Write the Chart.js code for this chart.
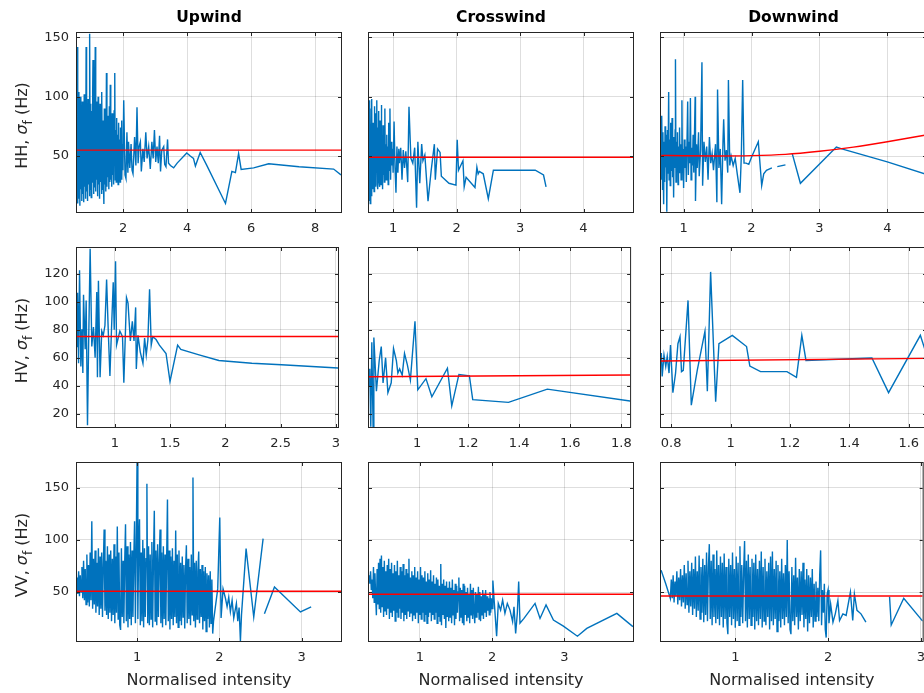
<!DOCTYPE html>
<html>
<head>
<meta charset="utf-8">
<title>Sigma f vs normalised intensity</title>
<script src="https://cdn.jsdelivr.net/npm/chart.js@4.4.1/dist/chart.umd.min.js"></script>
<style>
    html, body { margin: 0; padding: 0; background: #fff; overflow: hidden; }
    #fig { position: relative; width: 924px; height: 693px; overflow: hidden; background: #fff; }
    #fig canvas { position: absolute; }
</style>
</head>
<body>
<div id="fig"></div>
<script>
// Column titles and row (polarisation) labels
const columnTitles = ['Upwind', 'Crosswind', 'Downwind'];
const rowLabels = ['HH', 'HV', 'VV'];
const xLabel = 'Normalised intensity';

// Measured sigma_f (Hz) against normalised intensity, as [intensity, sigma]
const upwindHH = [
    [0.56,62],[0.575,142],[0.59,10],[0.605,104],[0.62,14],[0.635,92],[0.65,8],[0.665,100],[0.68,22],[0.695,88],
    [0.71,12],[0.725,96],[0.74,18],[0.755,84],[0.77,11],[0.785,102],[0.8,24],[0.815,90],[0.83,14],[0.845,142],
    [0.86,20],[0.875,86],[0.89,12],[0.905,98],[0.92,26],[0.935,80],[0.95,16],[0.96,153],[0.975,22],[0.99,94],
    [1.005,15],[1.02,88],[1.035,28],[1.05,104],[1.06,131],[1.075,18],[1.09,92],[1.105,24],[1.12,86],[1.13,142],
    [1.145,20],[1.16,96],[1.175,30],[1.19,82],[1.205,16],[1.22,100],[1.235,26],[1.25,78],[1.265,14],[1.28,94],
    [1.295,28],[1.31,86],[1.325,18],[1.34,104],[1.355,22],[1.37,80],[1.385,30],[1.4,9.5],[1.415,90],[1.43,26],
    [1.445,74],[1.46,20],[1.48,120],[1.495,24],[1.51,84],[1.525,32],[1.54,76],[1.555,22],[1.57,92],[1.585,28],
    [1.6,110],[1.615,30],[1.63,70],[1.645,24],[1.66,86],[1.675,34],[1.69,78],[1.705,26],[1.72,88],[1.74,120],
    [1.755,30],[1.77,72],[1.785,28],[1.8,82],[1.815,36],[1.83,68],[1.845,26],[1.86,78],[1.875,32],[1.89,64],
    [1.905,28],[1.92,74],[1.935,34],[1.95,80],[1.965,30],[1.98,60],[1.995,38],[2.02,97],[2.06,34],[2.09,31],
    [2.12,70],[2.15,36],[2.17,62],[2.21,40],[2.25,60],[2.28,38],[2.31,35],[2.36,66],[2.4,42],[2.435,91],
    [2.47,44],[2.5,58],[2.54,62],[2.57,37],[2.62,56],[2.66,45],[2.71,70],[2.75,48],[2.8,58],[2.85,39],
    [2.9,62],[2.94,48],[2.98,72],[3.02,45],[3.06,58],[3.1,44],[3.14,67],[3.17,37],[3.21,55],[3.27,58],
    [3.3,43],[3.34,41],[3.39,64],[3.42,44],[3.48,42],[3.58,40],[3.69,44],[3.99,52.5],[4.1,50],[4.2,48],
    [4.26,41.5],[4.41,53],[4.6,43],[5.2,10],[5.4,37],[5.51,36],[5.61,52],[5.69,38.7],[6.08,40],[6.55,43.5],
    [7.5,41],[8.58,39],[8.81,34]
];
const crosswindHH = [
    [0.62,60],[0.625,97],[0.63,12],[0.635,84],[0.64,10],[0.645,72],[0.65,26],[0.655,90],[0.66,16],[0.665,98],
    [0.67,30],[0.675,66],[0.68,22],[0.685,78],[0.69,28],[0.695,70],[0.7,20],[0.705,92],[0.71,34],[0.715,64],
    [0.72,24],[0.725,86],[0.73,30],[0.735,72],[0.74,36],[0.745,97],[0.75,26],[0.755,68],[0.76,22],[0.765,74],
    [0.77,32],[0.775,88],[0.78,28],[0.785,66],[0.79,24],[0.795,80],[0.8,34],[0.805,70],[0.81,26],[0.815,93],
    [0.82,38],[0.827,64],[0.834,22],[0.841,76],[0.848,34],[0.855,62],[0.862,28],[0.87,90],[0.877,36],[0.885,60],
    [0.892,30],[0.9,68],[0.908,40],[0.915,58],[0.922,26],[0.93,78],[0.94,38],[0.95,90],[0.96,30],[0.97,62],
    [0.98,42],[0.99,56],[1.0,36],[1.015,79],[1.03,40],[1.045,19],[1.06,58],[1.075,36],[1.09,56],[1.1,44],
    [1.12,57],[1.14,30],[1.16,55],[1.18,40],[1.2,54],[1.23,28],[1.25,91.6],[1.28,48],[1.31,44],[1.34,57],
    [1.37,6.3],[1.39,62],[1.42,27],[1.45,60],[1.47,46],[1.5,51],[1.55,12],[1.6,38],[1.65,60],[1.665,30],
    [1.7,56],[1.74,53],[1.76,33],[1.88,27],[1.99,25.5],[2.01,63.6],[2.03,38],[2.1,46],[2.12,24],[2.15,32],
    [2.29,23.4],[2.32,40.6],[2.34,35],[2.36,37],[2.42,35],[2.5,14],[2.58,38],[3.24,38],[3.37,34],[3.41,24]
];
const downwindHH = [
    [0.67,65],[0.675,30],[0.68,84],[0.69,22],[0.695,70],[0.7,35],[0.706,9.4],[0.712,62],[0.72,28],[0.727,75],
    [0.735,40],[0.742,68],[0.75,20],[0.755,3],[0.762,72],[0.77,35],[0.78,104],[0.787,30],[0.795,64],[0.803,25],
    [0.81,78],[0.818,38],[0.825,58],[0.83,82],[0.838,32],[0.845,66],[0.853,15],[0.86,60],[0.868,40],[0.875,72],
    [0.88,131.5],[0.888,28],[0.895,62],[0.903,44],[0.91,70],[0.918,26],[0.925,58],[0.933,36],[0.94,74],[0.948,42],
    [0.955,60],[0.963,30],[0.975,97],[0.983,38],[0.99,56],[1.0,23],[1.01,64],[1.02,40],[1.03,58],[1.04,28],
    [1.06,96],[1.07,34],[1.08,62],[1.09,44],[1.1,99],[1.11,30],[1.12,57],[1.13,42],[1.14,68],[1.15,36],
    [1.17,100],[1.175,12],[1.19,60],[1.2,40],[1.22,70],[1.23,33],[1.25,55],[1.27,129],[1.28,25],[1.3,62],
    [1.32,45],[1.34,58],[1.36,30],[1.38,66],[1.4,44],[1.42,52],[1.44,38],[1.47,60],[1.49,11],[1.5,106],
    [1.52,40],[1.54,56],[1.56,9.4],[1.58,62],[1.59,81],[1.61,46],[1.63,55],[1.65,36],[1.66,114],[1.68,42],
    [1.7,50],[1.73,42],[1.76,48],[1.79,35],[1.83,19],[1.85,50],[1.87,114],[1.89,44],[1.92,44],[1.96,43],
    [2.0,49],[2.1,62],[2.15,25],[2.18,35],[2.22,38],[2.3,40],[2.34,null],[2.38,41],[2.5,42.5],[2.55,null],
    [2.6,52],[2.72,27],[3.25,57.5],[3.33,56],[4.0,45],[4.6,34]
];
const upwindHV = [
    [0.657,68],[0.662,106.5],[0.671,56],[0.68,122.5],[0.692,53.7],[0.701,80.4],[0.71,49],[0.716,105],[0.731,66],[0.74,101],
    [0.752,11.7],[0.761,63],[0.776,138],[0.791,68],[0.806,82],[0.821,60],[0.836,107],[0.842,46],[0.851,115],[0.866,46],
    [0.881,79],[0.895,76],[0.91,83],[0.925,116],[0.94,79],[0.955,47],[0.97,82],[0.985,114],[0.994,80],[1.006,129],
    [1.015,69],[1.045,79],[1.069,75],[1.081,42],[1.105,103],[1.119,99],[1.14,72],[1.158,86],[1.173,72],[1.188,96],
    [1.194,52],[1.209,76],[1.23,64],[1.254,56],[1.269,74],[1.284,62],[1.299,73],[1.314,109],[1.329,69],[1.343,75],
    [1.373,73],[1.403,69],[1.463,63],[1.499,43],[1.568,69],[1.597,66],[1.762,62],[1.941,58],[2.24,56],[2.508,55],
    [3.02,52.6]
];
const crosswindHV = [
    [0.812,40],[0.815,52],[0.819,10.5],[0.823,71],[0.828,10.5],[0.831,74.5],[0.841,36],[0.852,58],[0.86,68],[0.867,42],
    [0.877,60],[0.886,35],[0.899,42],[0.908,66.6],[0.919,58],[0.925,49],[0.932,52],[0.942,47.5],[0.951,63],[0.962,55],
    [0.974,44],[0.992,86],[1.003,37],[1.035,45],[1.058,32],[1.119,52.5],[1.136,25.5],[1.164,48],[1.205,47],[1.218,30],
    [1.358,28],[1.51,37.5],[1.834,29]
];
const downwindHV = [
    [0.767,63.3],[0.77,46.6],[0.776,62],[0.782,53.7],[0.787,61],[0.793,49],[0.798,69],[0.806,35],[0.815,49],[0.823,70],
    [0.83,75],[0.835,50],[0.841,51],[0.857,101],[0.868,26],[0.888,51],[0.914,79],[0.922,36],[0.933,121.4],[0.95,28.5],
    [0.961,70],[1.006,76],[1.054,68],[1.065,54],[1.101,50],[1.19,50],[1.222,46],[1.24,76],[1.254,58],[1.476,59.8],
    [1.532,35],[1.639,76],[1.66,62]
];
const upwindVV = [
    [0.27,64],[0.28,48],[0.29,70],[0.3,46],[0.31,66],[0.32,50],[0.33,74],[0.34,44],[0.35,80],[0.36,42],
    [0.37,72],[0.38,38],[0.39,86],[0.4,40],[0.41,76],[0.42,36],[0.43,88],[0.44,42],[0.45,118],[0.46,34],
    [0.47,82],[0.48,38],[0.49,90],[0.5,30],[0.51,78],[0.52,36],[0.53,92],[0.54,28],[0.55,84],[0.56,34],
    [0.57,88],[0.58,26],[0.59,76],[0.6,110],[0.61,32],[0.62,80],[0.63,28],[0.64,94],[0.65,24],[0.66,86],
    [0.67,30],[0.68,90],[0.69,22],[0.7,82],[0.71,28],[0.72,96],[0.73,20],[0.74,84],[0.75,30],[0.76,113],
    [0.77,24],[0.78,88],[0.79,18],[0.8,13.5],[0.81,92],[0.82,26],[0.83,80],[0.84,20],[0.85,78],[0.86,115],
    [0.87,22],[0.88,94],[0.89,16],[0.9,86],[0.91,24],[0.92,98],[0.93,18],[0.94,90],[0.95,26],[0.96,80],
    [0.97,118],[0.98,20],[0.99,92],[1.0,174],[1.01,24],[1.02,96],[1.03,120],[1.04,18],[1.05,88],[1.06,22],
    [1.07,100],[1.08,16],[1.09,92],[1.1,26],[1.11,82],[1.12,154],[1.13,20],[1.14,94],[1.15,18],[1.16,86],
    [1.17,24],[1.18,98],[1.19,16],[1.2,84],[1.21,128],[1.22,22],[1.23,90],[1.24,18],[1.25,96],[1.26,26],
    [1.27,80],[1.28,110],[1.29,20],[1.3,88],[1.31,16],[1.32,94],[1.33,24],[1.34,86],[1.35,18],[1.36,82],
    [1.37,139],[1.38,22],[1.39,90],[1.4,14],[1.41,84],[1.42,24],[1.43,92],[1.44,18],[1.45,80],[1.46,26],
    [1.47,109],[1.48,20],[1.49,86],[1.5,16],[1.51,90],[1.52,22],[1.53,78],[1.54,18],[1.55,84],[1.56,26],
    [1.57,76],[1.58,15],[1.59,72],[1.6,95],[1.61,20],[1.62,82],[1.63,24],[1.64,74],[1.65,18],[1.66,86],
    [1.67,28],[1.68,160],[1.69,22],[1.7,78],[1.71,16],[1.72,80],[1.73,24],[1.74,70],[1.75,89],[1.76,20],
    [1.77,72],[1.78,26],[1.79,76],[1.8,14],[1.81,70],[1.82,22],[1.83,74],[1.84,12],[1.85,68],[1.86,24],
    [1.87,66],[1.88,16],[1.89,70],[1.9,20],[1.91,62],[1.92,10],[1.93,22],[1.981,53],[2.006,121.5],[2.022,25],
    [2.046,53],[2.075,44],[2.095,36],[2.115,45],[2.135,31],[2.156,42],[2.176,25],[2.208,39],[2.225,22],[2.241,35],
    [2.257,2.9],[2.27,28],[2.326,91.7],[2.419,26],[2.533,101.3],[2.54,null],[2.549,29.2],[2.671,54.9],[2.987,30.8],[3.117,35.6]
];
const crosswindVV = [
    [0.3,66],[0.31,58],[0.32,70],[0.33,52],[0.34,62],[0.35,44],[0.36,74],[0.37,40],[0.38,68],[0.39,46],
    [0.4,27.6],[0.41,72],[0.42,38],[0.43,78],[0.44,34],[0.45,82],[0.46,30],[0.47,85],[0.48,36],[0.49,74],
    [0.5,26],[0.51,80],[0.52,32],[0.53,70],[0.54,28],[0.55,76],[0.56,34],[0.57,82],[0.58,24],[0.59,72],
    [0.6,30],[0.61,78],[0.62,26],[0.63,68],[0.64,32],[0.65,76],[0.66,22],[0.67,70],[0.68,30],[0.69,80],
    [0.7,26],[0.71,66],[0.72,34],[0.73,74],[0.74,24],[0.75,70],[0.76,30],[0.77,77],[0.78,22],[0.79,66],
    [0.8,28],[0.81,72],[0.82,24],[0.83,68],[0.84,32],[0.85,82],[0.86,26],[0.87,64],[0.88,30],[0.89,70],
    [0.9,22],[0.91,66],[0.92,28],[0.93,74],[0.94,24],[0.95,64],[0.96,30],[0.97,70],[0.98,20],[0.99,62],
    [1.0,28],[1.01,74],[1.02,24],[1.03,66],[1.04,30],[1.05,64],[1.06,22],[1.07,70],[1.08,28],[1.09,60],
    [1.1,20],[1.11,68],[1.12,26],[1.13,62],[1.14,30],[1.15,71],[1.16,22],[1.17,60],[1.18,28],[1.19,66],
    [1.2,24],[1.21,58],[1.22,30],[1.23,64],[1.24,20],[1.25,62],[1.26,26],[1.27,56],[1.28,22],[1.29,77],
    [1.3,18],[1.31,58],[1.32,28],[1.33,62],[1.34,24],[1.35,56],[1.36,15.5],[1.37,60],[1.38,26],[1.39,54],
    [1.4,22],[1.41,60],[1.42,26],[1.43,54],[1.44,20],[1.45,62],[1.46,28],[1.47,52],[1.48,18],[1.49,58],
    [1.5,24],[1.51,56],[1.52,30],[1.53,50],[1.54,64],[1.55,22],[1.56,54],[1.57,26],[1.58,52],[1.59,20],
    [1.6,58],[1.61,18],[1.62,56],[1.63,28],[1.64,50],[1.65,22],[1.66,54],[1.67,26],[1.68,48],[1.69,20],
    [1.7,58],[1.71,28],[1.72,52],[1.73,24],[1.74,54],[1.75,30],[1.76,20],[1.77,50],[1.78,26],[1.79,48],
    [1.8,30],[1.81,55],[1.82,24],[1.83,50],[1.84,22],[1.85,46],[1.86,28],[1.87,52],[1.88,24],[1.89,48],
    [1.9,30],[1.91,52],[1.92,26],[1.93,46],[1.94,32],[1.95,44],[1.96,28],[1.97,50],[1.98,30],[1.99,44],
    [2.0,34],[2.01,61],[2.025,45],[2.062,7.5],[2.085,39],[2.117,32.6],[2.145,42.3],[2.177,29.5],[2.21,39],[2.247,32.6],
    [2.283,21.5],[2.302,35.8],[2.325,10.2],[2.348,29.5],[2.367,60],[2.385,20],[2.44,24.6],[2.593,39],[2.662,24.6],[2.745,37.5],
    [2.847,23],[2.985,17.2],[3.179,7.5],[3.308,15],[3.724,29.4],[3.946,16.7]
];
const downwindVV = [
    [0.2,71],[0.25,58],[0.3,43.7],[0.31,62],[0.32,44],[0.33,66],[0.34,40],[0.35,60],[0.36,46],[0.37,70],
    [0.38,38],[0.39,64],[0.4,42],[0.41,72],[0.42,36],[0.43,66],[0.44,40],[0.45,76],[0.46,34],[0.47,68],
    [0.48,38],[0.49,80],[0.5,30],[0.51,70],[0.52,36],[0.53,78],[0.54,28],[0.55,72],[0.56,34],[0.57,84],
    [0.58,26],[0.59,70],[0.6,32],[0.61,85],[0.62,24],[0.63,74],[0.64,30],[0.65,82],[0.66,21],[0.67,76],
    [0.68,28],[0.69,88],[0.7,22],[0.71,74],[0.72,96],[0.73,24],[0.74,80],[0.75,18],[0.76,86],[0.77,26],
    [0.78,72],[0.79,20],[0.8,90],[0.81,24],[0.82,76],[0.83,18],[0.84,84],[0.85,26],[0.86,78],[0.87,16],
    [0.88,87],[0.89,24],[0.9,74],[0.91,20],[0.92,9.4],[0.93,82],[0.94,26],[0.95,76],[0.96,18],[0.97,88],
    [0.98,24],[0.99,72],[1.0,15.6],[1.01,84],[1.02,22],[1.03,78],[1.04,18],[1.05,94],[1.06,26],[1.07,76],
    [1.08,20],[1.09,70],[1.1,99],[1.11,22],[1.12,80],[1.13,16],[1.14,86],[1.15,24],[1.16,74],[1.17,18],
    [1.18,82],[1.19,26],[1.2,78],[1.21,14],[1.22,86],[1.23,22],[1.24,72],[1.25,18],[1.26,80],[1.27,24],
    [1.28,89],[1.29,16],[1.3,74],[1.31,22],[1.32,82],[1.33,18],[1.34,70],[1.35,26],[1.36,78],[1.37,14],
    [1.38,84],[1.39,22],[1.4,89],[1.41,18],[1.42,72],[1.43,24],[1.44,80],[1.45,12],[1.46,76],[1.47,22],
    [1.48,70],[1.49,16],[1.5,82],[1.51,24],[1.52,68],[1.53,18],[1.54,76],[1.55,26],[1.56,100],[1.57,20],
    [1.58,70],[1.59,14],[1.6,9.4],[1.61,74],[1.62,22],[1.63,66],[1.64,18],[1.65,83],[1.66,26],[1.67,64],
    [1.68,14],[1.69,72],[1.7,22],[1.71,70],[1.72,28],[1.73,78],[1.74,16],[1.75,62],[1.76,24],[1.77,72],
    [1.78,12],[1.79,66],[1.8,20],[1.81,64],[1.82,26],[1.83,72],[1.84,16],[1.85,58],[1.86,22],[1.87,60],
    [1.88,26],[1.89,54],[1.9,22],[1.91,66],[1.92,90],[1.93,18],[1.94,52],[1.95,30],[1.96,58],[1.97,14],
    [1.98,6.2],[1.99,48],[2.0,52],[2.01,20],[2.028,38.4],[2.053,21],[2.078,29],[2.106,41.7],[2.124,22.6],[2.16,29],
    [2.195,27.5],[2.241,50],[2.266,22.6],[2.284,48],[2.312,32.4],[2.355,29],[2.408,21],[2.5,null],[2.663,45.5],[2.681,18.3],
    [2.816,44],[3.02,22]
];

// Fitted sigma_f curves (red)
const upwindHHFit = [[0.56,55],[8.81,55]];
const crosswindHHFit = [[0.62,48.9],[4.78,48.9]];
const downwindHHFit = [[0.67,50.5],[1,50.2],[1.5,50],[2,50.3],[2.5,51.4],[3,54],[3.5,57.5],[4,62],[4.6,68]];
const upwindHVFit = [[0.657,75.2],[3.02,75.2]];
const crosswindHVFit = [[0.812,46.4],[1.834,47.6]];
const downwindHVFit = [[0.766,57.6],[1.66,59.5]];
const upwindVVFit = [[0.27,50.7],[3.48,50.7]];
const crosswindVVFit = [[0.298,47.8],[3.947,47.8]];
const downwindVVFit = [[0.199,46.2],[3.02,46.2]];

// Tick values
const hhTicksY = [50, 100, 150];
const hvTicksY = [20, 40, 60, 80, 100, 120];
const vvTicksY = [50, 100, 150];
const upwindHHTicksX = [2, 4, 6, 8];
const crosswindHHTicksX = [1, 2, 3, 4];
const downwindHHTicksX = [1, 2, 3, 4];
const upwindHVTicksX = [1, 1.5, 2, 2.5, 3];
const crosswindHVTicksX = [1, 1.2, 1.4, 1.6, 1.8];
const downwindHVTicksX = [0.8, 1, 1.2, 1.4, 1.6];
const vvTicksX = [1, 2, 3];

// Axis limits (tight, as in the figure)
const rowYRange = [[2.8, 153.7], [10.4, 138.5], [2.9, 174]];
const rowYTicks = [hhTicksY, hvTicksY, vvTicksY];

const FONT = '"DejaVu Sans", "Liberation Sans", Arial, sans-serif';
const TEXT = '#262626';
const BLUE = '#0072bd';
const RED = '#ff0000';

// plot-box pixel edges of each column / row
const colEdges = [[77, 341], [369, 633], [661, 926]];
const rowEdges = [[33, 212], [248, 427], [463, 641]];
const PAD_L = 75, PAD_T = 30, PAD_R = 8, PAD_B = 50;

const panels = [
    { row: 0, col: 0, data: upwindHH, fit: upwindHHFit, xr: [0.56, 8.81], xt: upwindHHTicksX },
    { row: 0, col: 1, data: crosswindHH, fit: crosswindHHFit, xr: [0.62, 4.78], xt: crosswindHHTicksX },
    { row: 0, col: 2, data: downwindHH, fit: downwindHHFit, xr: [0.667, 4.57], xt: downwindHHTicksX, curved: true },
    { row: 1, col: 0, data: upwindHV, fit: upwindHVFit, xr: [0.657, 3.02], xt: upwindHVTicksX },
    { row: 1, col: 1, data: crosswindHV, fit: crosswindHVFit, xr: [0.812, 1.834], xt: crosswindHVTicksX },
    { row: 1, col: 2, data: downwindHV, fit: downwindHVFit, xr: [0.766, 1.658], xt: downwindHVTicksX },
    { row: 2, col: 0, data: upwindVV, fit: upwindVVFit, xr: [0.27, 3.48], xt: vvTicksX },
    { row: 2, col: 1, data: crosswindVV, fit: crosswindVVFit, xr: [0.298, 3.947], xt: vvTicksX },
    { row: 2, col: 2, data: downwindVV, fit: downwindVVFit, xr: [0.199, 3.02], xt: vvTicksX }
];

function toXY(points) {
    return points.map(p => ({ x: p[0], y: p[1] }));
}

// MATLAB-like box, inward ticks, titles and axis labels
const matlabAxes = {
    id: 'matlabAxes',
    afterDatasetsDraw(chart, args, opts) {
        const ctx = chart.ctx;
        const a = chart.chartArea;
        const xs = chart.scales.x, ys = chart.scales.y;
        ctx.save();
        ctx.strokeStyle = TEXT;
        ctx.lineWidth = 1;
        ctx.beginPath();
        opts.xTicks.forEach(v => {
            const px = Math.round(xs.getPixelForValue(v)) + 0.5;
            ctx.moveTo(px, a.bottom); ctx.lineTo(px, a.bottom - 3);
            ctx.moveTo(px, a.top); ctx.lineTo(px, a.top + 3);
        });
        opts.yTicks.forEach(v => {
            const py = Math.round(ys.getPixelForValue(v)) + 0.5;
            ctx.moveTo(a.left, py); ctx.lineTo(a.left + 3, py);
            ctx.moveTo(a.right, py); ctx.lineTo(a.right - 3, py);
        });
        ctx.stroke();
        ctx.strokeRect(a.left - 0.5, a.top - 0.5, a.right - a.left + 1, a.bottom - a.top + 1);

        const cx = (a.left + a.right) / 2;
        ctx.fillStyle = '#000';
        ctx.textAlign = 'center';
        ctx.textBaseline = 'middle';
        if (opts.title) {
            ctx.font = 'bold 15.5px ' + FONT;
            ctx.fillText(opts.title, cx, a.top - 15);
        }
        ctx.fillStyle = TEXT;
        if (opts.xLabel) {
            ctx.font = '16px ' + FONT;
            ctx.fillText(opts.xLabel, cx, a.bottom + 40);
        }
        if (opts.yLabel) {
            const fs = 16;
            const parts = [
                { t: opts.yLabel + ', ', f: fs + 'px ' + FONT, dy: 0 },
                { t: 'σ', f: 'italic ' + fs + 'px ' + FONT, dy: 0 },
                { t: 'f', f: Math.round(fs * 0.72) + 'px ' + FONT, dy: 6 },
                { t: ' (Hz)', f: fs + 'px ' + FONT, dy: 0 }
            ];
            let total = 0;
            parts.forEach(p => { ctx.font = p.f; p.w = ctx.measureText(p.t).width; total += p.w; });
            ctx.translate(a.left - 54, (a.top + a.bottom) / 2 + 3);
            ctx.rotate(-Math.PI / 2);
            ctx.textAlign = 'left';
            let x = -total / 2;
            parts.forEach(p => { ctx.font = p.f; ctx.fillText(p.t, x, p.dy); x += p.w; });
        }
        ctx.restore();
    }
};

const fig = document.getElementById('fig');

panels.forEach(p => {
    const [L, R] = colEdges[p.col];
    const [T, B] = rowEdges[p.row];
    const canvas = document.createElement('canvas');
    const w = (R - L) + PAD_L + PAD_R;
    const h = (B - T) + PAD_T + PAD_B;
    canvas.width = w; canvas.height = h;
    canvas.style.left = (L - PAD_L) + 'px';
    canvas.style.top = (T - PAD_T) + 'px';
    canvas.style.width = w + 'px';
    canvas.style.height = h + 'px';
    fig.appendChild(canvas);

    const yr = rowYRange[p.row];
    const yt = rowYTicks[p.row];
    const tickFont = { family: FONT, size: 13 };

    new Chart(canvas.getContext('2d'), {
        type: 'line',
        data: {
            datasets: [
                {
                    data: toXY(p.fit),
                    borderColor: RED,
                    borderWidth: 1.4,
                    pointRadius: 0,
                    cubicInterpolationMode: p.curved ? 'monotone' : 'default',
                    order: 0
                },
                {
                    data: toXY(p.data),
                    borderColor: BLUE,
                    borderWidth: 1.4,
                    pointRadius: 0,
                    spanGaps: false,
                    order: 1
                }
            ]
        },
        options: {
            responsive: false,
            animation: false,
            devicePixelRatio: 1,
            events: [],
            layout: { padding: { top: PAD_T, right: PAD_R, left: 0, bottom: 0 } },
            plugins: {
                legend: { display: false },
                tooltip: { enabled: false },
                matlabAxes: {
                    xTicks: p.xt,
                    yTicks: yt,
                    title: p.row === 0 ? columnTitles[p.col] : null,
                    yLabel: p.col === 0 ? rowLabels[p.row] : null,
                    xLabel: p.row === 2 ? xLabel : null
                }
            },
            scales: {
                x: {
                    type: 'linear',
                    min: p.xr[0],
                    max: p.xr[1],
                    afterBuildTicks: s => { s.ticks = p.xt.map(v => ({ value: v })); },
                    afterFit: s => { s.height = PAD_B; },
                    grid: { color: 'rgba(0,0,0,0.13)', drawTicks: false },
                    border: { display: false },
                    ticks: {
                        font: tickFont, color: TEXT, padding: 9,
                        maxRotation: 0, autoSkip: false,
                        callback: v => String(v)
                    }
                },
                y: {
                    type: 'linear',
                    min: yr[0],
                    max: yr[1],
                    afterBuildTicks: s => { s.ticks = yt.map(v => ({ value: v })); },
                    afterFit: s => { s.width = PAD_L; },
                    grid: { color: 'rgba(0,0,0,0.13)', drawTicks: false },
                    border: { display: false },
                    ticks: {
                        display: p.col === 0,
                        font: tickFont, color: TEXT, padding: 8,
                        callback: v => String(v)
                    }
                }
            }
        },
        plugins: [matlabAxes]
    });
});
</script>
</body>
</html>
